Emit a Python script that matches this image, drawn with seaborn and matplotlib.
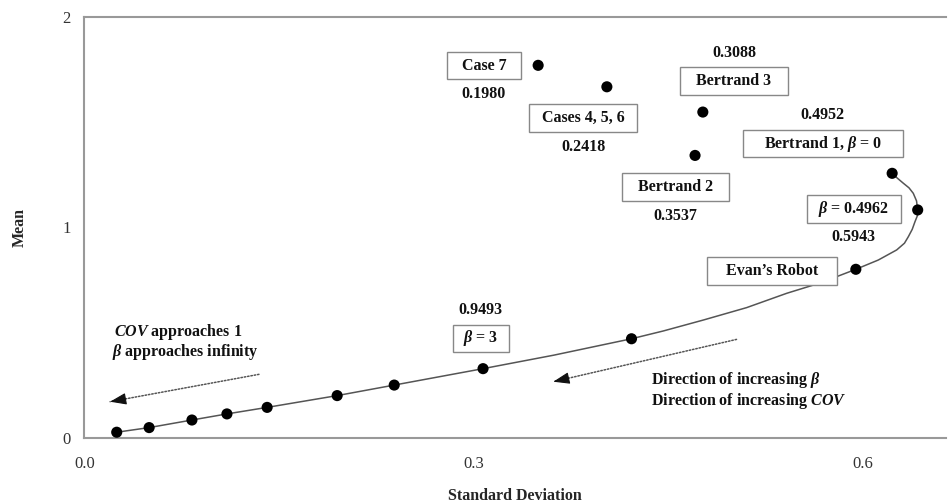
import matplotlib
matplotlib.use("Agg")
import matplotlib.pyplot as plt
from matplotlib.patches import Rectangle
import seaborn as sns

# -----------------------------
# DATA
# -----------------------------
# points on the efficient curve (beta -> infinity ... beta = 0)
frontier_sd = [0.025, 0.050, 0.083, 0.110, 0.141, 0.195, 0.239, 0.3075, 0.422, 0.595, 0.6427, 0.623]
frontier_mean = [0.026, 0.048, 0.084, 0.113, 0.144, 0.200, 0.250, 0.328, 0.470, 0.800, 1.082, 1.256]

# the other cases
case_sd = [0.350, 0.403, 0.477, 0.471]
case_mean = [1.769, 1.667, 1.547, 1.341]

# the drawn curve
curve_sd = [0.025, 0.050, 0.083, 0.110, 0.141, 0.195, 0.239, 0.3075, 0.362, 0.422,
            0.4465, 0.4774, 0.5108, 0.5417, 0.5622, 0.5802, 0.595, 0.6123, 0.6265,
            0.6325, 0.6355, 0.6385, 0.6406, 0.6425, 0.6427, 0.6418, 0.6393, 0.6360,
            0.6316, 0.6270, 0.623]
curve_mean = [0.026, 0.048, 0.084, 0.113, 0.144, 0.200, 0.250, 0.328, 0.392, 0.470,
              0.507, 0.559, 0.618, 0.686, 0.725, 0.765, 0.800, 0.844, 0.892,
              0.924, 0.955, 0.990, 1.026, 1.055, 1.082, 1.125, 1.161, 1.187,
              1.209, 1.233, 1.256]

box_labels = ["Case 7", "Cases 4, 5, 6", "Bertrand 3", r"Bertrand 1, $\beta$ = 0",
              "Bertrand 2", r"$\beta$ = 0.4962", "Evan\u2019s Robot", r"$\beta$ = 3"]
value_labels = ["0.1980", "0.2418", "0.3088", "0.4952", "0.3537", "0.5943", "0.9493"]

x_ticks = [0.0, 0.3, 0.6]
x_tick_labels = ["0.0", "0.3", "0.6"]
y_ticks = [0, 1, 2]
y_tick_labels = ["0", "1", "2"]

# -----------------------------
# LAYOUT (positions in data units, box sizes in pixels)
# -----------------------------
box_pos = [(0.3082, 1.768), (0.3847, 1.519), (0.501, 1.695), (0.5697, 1.397),
           (0.456, 1.191), (0.5936, 1.086), (0.5303, 0.791), (0.3057, 0.472)]
box_w_px = [74.6, 108.3, 108.6, 160.6, 107.3, 93.4, 129.4, 56.0]
box_h_px = 27.5
value_pos = [(0.3077, 1.631), (0.3848, 1.380), (0.501, 1.826), (0.5694, 1.533),
             (0.4555, 1.053), (0.593, 0.952), (0.3052, 0.607)]
# (tail, tip) of the two dotted arrows
arrows = [((0.1347, 0.301), (0.0199, 0.171)),
          ((0.503, 0.467), (0.3617, 0.266))]

sns.set_style("white")
plt.rcParams['font.family'] = ['Liberation Serif', 'DejaVu Serif']
plt.rcParams['mathtext.fontset'] = 'custom'
plt.rcParams['mathtext.rm'] = 'Liberation Serif:bold'
plt.rcParams['mathtext.it'] = 'Liberation Serif:italic:bold'
plt.rcParams['mathtext.bf'] = 'Liberation Serif:bold'

FS = 11.5

fig = plt.figure(figsize=(9.48, 5.04), dpi=100)
ax = fig.add_axes([84.3 / 948, 1 - 437.7 / 504, (946 - 84.3) / 948, (437.7 - 16.7) / 504])

x_max = (946 - 84.3) / 1296.7
ax.set_xlim(0, x_max)
ax.set_ylim(0, 2)

# curve + points
sns.lineplot(x=curve_sd, y=curve_mean, sort=False, estimator=None,
             color='#555555', lw=1.1, ax=ax, zorder=2)
sns.scatterplot(x=frontier_sd, y=frontier_mean, color='black', s=64,
                edgecolor='none', ax=ax, zorder=3)
sns.scatterplot(x=case_sd, y=case_mean, color='black', s=64,
                edgecolor='none', ax=ax, zorder=3)

# boxed labels
px_x = x_max / (946 - 84.3)
px_y = 2 / (437.7 - 16.7)
for lab, (bx, by), w in zip(box_labels, box_pos, box_w_px):
    ax.add_patch(Rectangle((bx - w * px_x / 2, by - box_h_px * px_y / 2),
                           w * px_x, box_h_px * px_y, facecolor='white',
                           edgecolor='#888888', lw=1.0, zorder=4))
    ax.text(bx, by, lab, ha='center', va='center', fontsize=FS,
            fontweight='bold', color='#111111', zorder=5)

for lab, (vx, vy) in zip(value_labels, value_pos):
    ax.text(vx, vy, lab, ha='center', va='center', fontsize=FS,
            fontweight='bold', color='#111111')

# dotted direction arrows: dotted shaft + solid head
for (tail, tip) in arrows:
    ax.annotate('', xy=tip, xytext=tail,
                arrowprops=dict(arrowstyle='-', linestyle=(0, (1, 1.2)), color='#555555',
                                lw=1.1, shrinkA=0, shrinkB=0))
    dx_px = (tail[0] - tip[0]) / px_x
    dy_px = (tail[1] - tip[1]) / px_y
    frac = 14 / (dx_px ** 2 + dy_px ** 2) ** 0.5
    head_start = (tip[0] + (tail[0] - tip[0]) * frac, tip[1] + (tail[1] - tip[1]) * frac)
    ax.annotate('', xy=tip, xytext=head_start,
                arrowprops=dict(arrowstyle='-|>,head_length=1.0,head_width=0.36',
                                color='#111111', lw=0.8, shrinkA=0, shrinkB=0))

ax.text(0.0231, 0.504, r"$COV$ approaches 1", ha='left', va='center',
        fontsize=FS, fontweight='bold', color='#111111')
ax.text(0.0211, 0.409, r"$\beta$ approaches infinity", ha='left', va='center',
        fontsize=FS, fontweight='bold', color='#111111')
ax.text(0.437, 0.274, r"Direction of increasing $\beta$", ha='left', va='center',
        fontsize=FS, fontweight='bold', color='#111111')
ax.text(0.437, 0.174, r"Direction of increasing $COV$", ha='left', va='center',
        fontsize=FS, fontweight='bold', color='#111111')

# axes styling
ax.set_xticks(x_ticks)
ax.set_xticklabels(x_tick_labels)
ax.set_yticks(y_ticks)
ax.set_yticklabels(y_tick_labels)
ax.tick_params(axis='both', direction='out', length=6, width=1.0, color='#888888',
               labelsize=12, labelcolor='#333333')
ax.tick_params(axis='x', pad=7)
ax.tick_params(axis='y', pad=4)
for side in ['left', 'bottom', 'top']:
    ax.spines[side].set_color('#999999')
    ax.spines[side].set_linewidth(1.5)
ax.spines['right'].set_visible(False)

ax.set_xlabel('Standard Deviation', fontsize=FS, fontweight='bold', labelpad=12)
ax.set_ylabel('Mean', fontsize=FS, fontweight='bold', labelpad=25)

fig.savefig("out.png", dpi=100)
